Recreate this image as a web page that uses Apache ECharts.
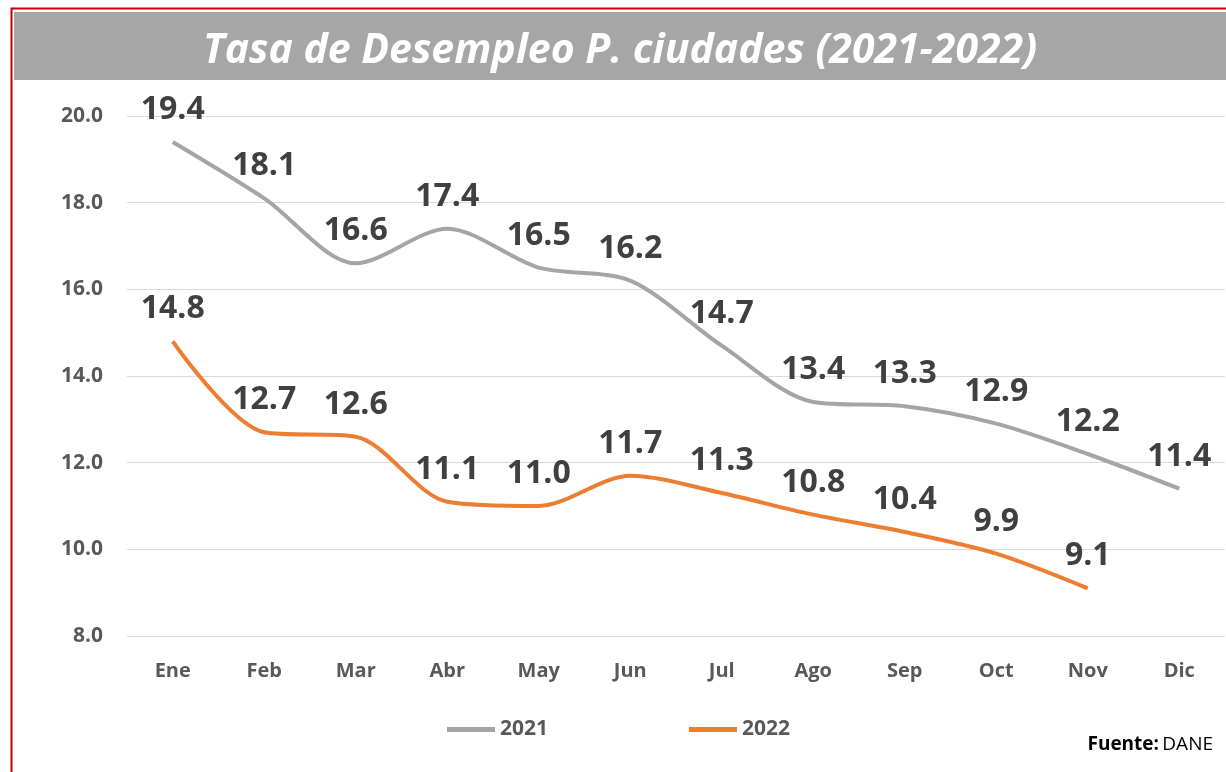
<!DOCTYPE html>
<html>
<head>
<meta charset="utf-8">
<script src="https://cdn.jsdelivr.net/npm/echarts@6/dist/echarts.min.js"></script>
<style>
html,body{margin:0;padding:0;background:#fff;}
#c{width:1226px;height:772px;}
</style>
</head>
<body>
<div id="c"></div>
<script>
const titleText = 'Tasa de Desempleo P. ciudades (2021-2022)';
const months = ['Ene','Feb','Mar','Abr','May','Jun','Jul','Ago','Sep','Oct','Nov','Dic'];
const values2021 = [19.4, 18.1, 16.6, 17.4, 16.5, 16.2, 14.7, 13.4, 13.3, 12.9, 12.2, 11.4];
const values2022 = [14.8, 12.7, 12.6, 11.1, 11.0, 11.7, 11.3, 10.8, 10.4, 9.9, 9.1];
const seriesNames = ['2021', '2022'];
const yMin = 8, yMax = 20, yStep = 2;

const FONT = '"Open Sans"';
const chart = echarts.init(document.getElementById('c'), null, {renderer: 'canvas'});

function mkSeries(name, data, color) {
  return {
    name: name,
    type: 'line',
    data: data,
    smooth: 0.3,
    symbol: 'circle',
    symbolSize: 0.1,
    showSymbol: true,
    lineStyle: {color: color, width: 4},
    itemStyle: {color: color},
    label: {
      show: true,
      position: 'top',
      distance: 16,
      color: '#404040',
      fontFamily: FONT,
      fontWeight: 'bold',
      fontSize: 32,
      formatter: p => Number(p.value).toFixed(1)
    },
    labelLayout: {hideOverlap: false},
    emphasis: {disabled: true}
  };
}

chart.setOption({
  animation: false,
  backgroundColor: '#ffffff',
  graphic: [
    {type: 'rect', shape: {x: 11.5, y: 8.5, width: 1230, height: 780}, style: {fill: 'none', stroke: '#c00000', lineWidth: 2}, z: 0},
    {type: 'rect', shape: {x: 14, y: 12, width: 1212, height: 68}, style: {fill: '#a6a6a6'}, z: 0},
    {type: 'text', x: 620, y: 31, style: {text: titleText, fill: '#ffffff', font: 'italic bold 41px "Open Sans"', textAlign: 'center', textVerticalAlign: 'top'}, z: 1},
    {type: 'text', right: 13, top: 735, style: {rich: {b: {fontFamily: FONT, fontWeight: 'bold', fontSize: 19, fill: '#000'}, n: {fontFamily: FONT, fontSize: 19, fill: '#000'}}, text: '{b|Fuente:} {n|DANE}'}}
  ],
  grid: {left: 127, right: 1, top: 116, bottom: 136, containLabel: false},
  legend: {
    data: seriesNames,
    left: 442,
    top: 714,
    icon: 'rect',
    itemWidth: 48,
    itemHeight: 5,
    itemGap: 141,
    textStyle: {color: '#595959', fontFamily: FONT, fontWeight: 'bold', fontSize: 21}
  },
  xAxis: {
    type: 'category',
    data: months,
    boundaryGap: true,
    axisLine: {show: false},
    axisTick: {show: false},
    axisLabel: {color: '#595959', fontFamily: FONT, fontWeight: 'bold', fontSize: 20, margin: 25}
  },
  yAxis: {
    type: 'value',
    min: yMin,
    max: yMax,
    interval: yStep,
    axisLine: {show: false},
    axisTick: {show: false},
    splitLine: {lineStyle: {color: '#d9d9d9', width: 1}},
    axisLabel: {color: '#595959', fontFamily: FONT, fontWeight: 'bold', fontSize: 21, margin: 24, formatter: v => v.toFixed(1)}
  },
  series: [
    mkSeries(seriesNames[0], values2021, '#a5a5a5'),
    mkSeries(seriesNames[1], values2022, '#ed7d31')
  ]
});
</script>
</body>
</html>
